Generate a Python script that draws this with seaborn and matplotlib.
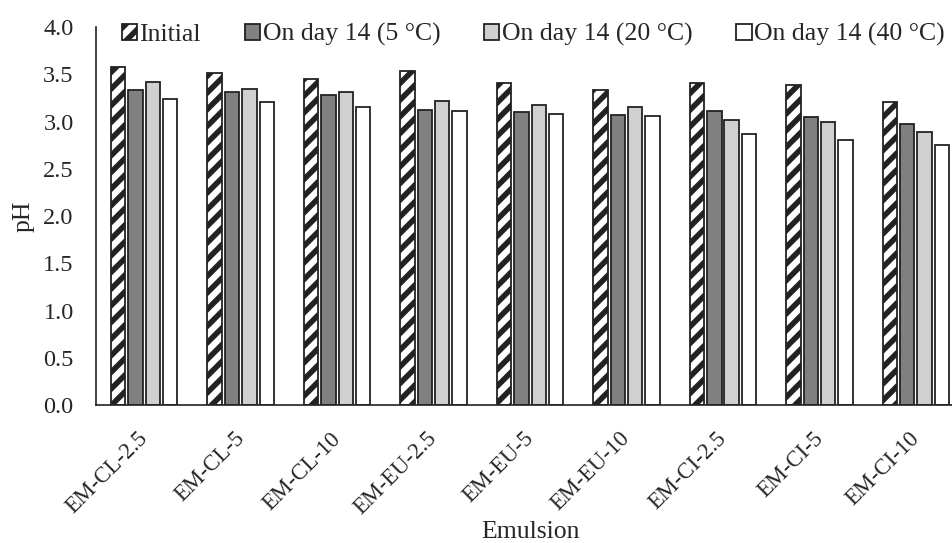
import numpy as np
import pandas as pd
import matplotlib
matplotlib.use("Agg")
import matplotlib.pyplot as plt
import matplotlib.transforms as mtransforms
import seaborn as sns

emulsions = ["EM-CL-2.5", "EM-CL-5", "EM-CL-10", "EM-EU-2.5", "EM-EU-5",
             "EM-EU-10", "EM-CI-2.5", "EM-CI-5", "EM-CI-10"]
series = ["Initial", "On day 14 (5 °C)", "On day 14 (20 °C)", "On day 14 (40 °C)"]

ph_initial = [3.58, 3.51, 3.45, 3.54, 3.41, 3.34, 3.41, 3.39, 3.21]
ph_5c = [3.34, 3.31, 3.28, 3.12, 3.10, 3.07, 3.11, 3.05, 2.98]
ph_20c = [3.42, 3.35, 3.31, 3.22, 3.18, 3.16, 3.02, 3.00, 2.89]
ph_40c = [3.24, 3.21, 3.15, 3.11, 3.08, 3.06, 2.87, 2.81, 2.75]

colors = ["white", "#808080", "#d0d0d0", "white"]

df = pd.DataFrame({
    "Emulsion": emulsions * 4,
    "series": np.repeat(series, len(emulsions)),
    "pH": ph_initial + ph_5c + ph_20c + ph_40c,
})

sns.set_style("white")
plt.rcParams["font.family"] = ["Liberation Serif", "DejaVu Serif"]
plt.rcParams["hatch.linewidth"] = 4.0
plt.rcParams["hatch.color"] = "black"

fig = plt.figure(figsize=(9.53, 5.43), dpi=100)
ax = fig.add_axes([0.1007, 0.254, 0.911, 0.696])

sns.barplot(data=df, x="Emulsion", y="pH", hue="series", hue_order=series,
            palette=colors, width=0.72, gap=0.17, edgecolor="#222222",
            linewidth=1.3, legend=False, ax=ax)

for p in ax.containers[0].patches:
    p.set_hatch("//")

ax.set_xlim(-0.5, 8.5)
ax.set_ylim(0, 4.0)
ax.set_yticks(np.arange(0, 4.01, 0.5))
ax.set_yticklabels([f"{v:.1f}" for v in np.arange(0, 4.01, 0.5)], fontsize=17.5)
ax.set_xticks(range(len(emulsions)))
ax.set_xticklabels(emulsions, rotation=45, ha="right", rotation_mode="anchor", fontsize=16.3)
ax.set_xticks(np.arange(-0.5, 8.6, 1), minor=True)
ax.tick_params(axis="x", which="major", length=0, pad=13)
ax.tick_params(axis="x", which="minor", length=7, width=1.2, direction="out", color="#222222")
ax.tick_params(axis="y", length=14, width=1.2, direction="inout", color="#222222", pad=9)

shift = mtransforms.ScaledTranslation(-0.07, -0.05, fig.dpi_scale_trans)
for lbl in ax.get_xticklabels():
    lbl.set_transform(lbl.get_transform() + shift)

for s in ["top", "right"]:
    ax.spines[s].set_visible(False)
for s in ["left", "bottom"]:
    ax.spines[s].set_color("#222222")
    ax.spines[s].set_linewidth(1.2)

ax.set_xlabel("Emulsion", fontsize=18.5, labelpad=1.5)
ax.set_ylabel("pH", fontsize=18.5, labelpad=6)

ax.legend(ax.containers, series, loc="center left",
          bbox_to_anchor=(0.1275, 0.936), bbox_transform=fig.transFigure,
          ncol=4, frameon=False, fontsize=18.5, handlelength=0.6, handleheight=0.6,
          handletextpad=0.1, columnspacing=1.7, borderpad=0, borderaxespad=0)

fig.savefig("out.png", dpi=100)
